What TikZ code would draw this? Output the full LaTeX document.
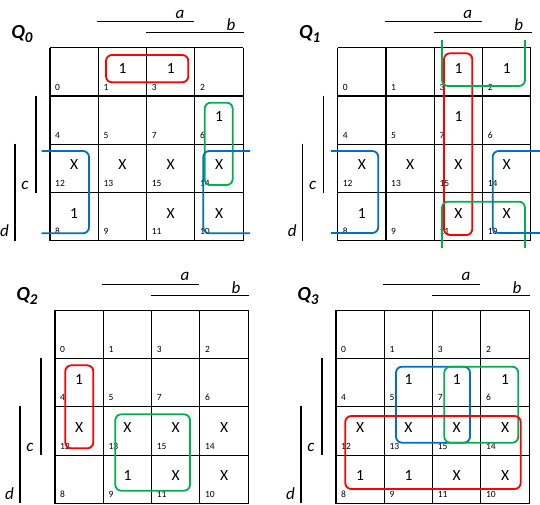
\documentclass[tikz,border=0pt]{standalone}
\usepackage{fontspec}
\setmainfont{Carlito}
\definecolor{kred}{RGB}{255,0,0}
\definecolor{kblue}{RGB}{0,112,192}
\definecolor{kgreen}{RGB}{0,176,80}
\tikzset{
  gridline/.style={line width=1.1pt, black},
  barline/.style={line width=1.1pt, black},
  cnum/.style={anchor=base west, inner sep=0pt, font=\fontsize{9.5}{9.5}\selectfont},
  entry/.style={inner sep=0pt, font=\fontsize{15.5}{15.5}\selectfont},
  varlab/.style={inner sep=0pt, font=\fontsize{17}{17}\selectfont\itshape},
  qlab/.style={inner sep=0pt, font=\fontsize{20}{20}\selectfont\bfseries\itshape},
  loop/.style={line width=1.8pt, rounded corners=6pt},
}
\newcommand\kcs{48.3}
\newcommand\kmap[5]{%
\begin{scope}[shift={(#2,#3)}]
  \foreach \i in {0,...,4}{
    \draw[gridline] ({\i*\kcs},0) -- ({\i*\kcs},{4*\kcs});
    \draw[gridline] (0,{\i*\kcs}) -- ({4*\kcs},{\i*\kcs});
  }
  \foreach \n [count=\k from 0] in {0,1,3,2,4,5,7,6,12,13,15,14,8,9,11,10}{
    \pgfmathtruncatemacro\kr{int(\k/4)}
    \pgfmathtruncatemacro\kc{mod(\k,4)}
    \node[cnum] (#1n\n) at ({\kc*\kcs+5},{\kr*\kcs+\kcs-6}) {\n};
  }
  \foreach \kc/\kr/\v in {#5}{
    \node[entry] (#1e\kc\kr) at ({\kc*\kcs+24.15},{\kr*\kcs+20.5}) {\v};
  }
  \node[qlab] (#1q) at (-28,-14) {Q\raisebox{-4pt}{\fontsize{15}{15}\selectfont #4}};
  \draw[barline] (47,-26) -- (144,-26);
  \node[varlab] (#1a) at (130,-33.7) {a};
  \draw[barline] (96,-15) -- (194,-15);
  \node[varlab] (#1b) at (181,-23) {b};
  \draw[barline] (-14,48) -- (-14,145);
  \node[varlab] (#1c) at (-25,137.3) {c};
  \draw[barline] (-35,96) -- (-35,193);
  \node[varlab] (#1d) at (-45.5,183) {d};
\end{scope}}
\begin{document}
\begin{tikzpicture}[x=1pt,y=-1pt]
\useasboundingbox (0,0) rectangle (540,504);
% Q0
\kmap{qa}{50}{47.7}{0}{1/0/1,2/0/1,3/1/1,0/2/X,1/2/X,2/2/X,3/2/X,0/3/1,2/3/X,3/3/X}
\draw[loop,kred] (106,55) rectangle (188.3,82.3);
\draw[loop,kgreen] (204.7,102.7) rectangle (232.7,185);
\draw[loop,kblue] (41.7,151) -- (89,151) -- (89,233.3) -- (41.7,233.3);
\draw[loop,kblue] (250,151) -- (203.3,151) -- (203.3,233.3) -- (250,233.3);
% Q1
\kmap{qb}{337.7}{47.7}{1}{2/0/1,3/0/1,2/1/1,0/2/X,1/2/X,2/2/X,3/2/X,0/3/1,2/3/X,3/3/X}
\draw[loop,kred] (444,53.3) rectangle (472.3,235);
\draw[loop,kgreen] (442,40) -- (442,86) -- (525,86) -- (525,40);
\draw[loop,kgreen] (442,248) -- (442,201.7) -- (525,201.7) -- (525,248);
\draw[loop,kblue] (331,151) -- (378.3,151) -- (378.3,233) -- (331,233);
\draw[loop,kblue] (541,151) -- (492.7,151) -- (492.7,233) -- (541,233);
% Q2
\kmap{qc}{55}{310.3}{2}{0/1/1,0/2/X,1/2/X,2/2/X,3/2/X,1/3/1,2/3/X,3/3/X}
\draw[loop,kred] (65.3,365.3) rectangle (93.3,448.3);
\draw[loop,kgreen] (115.3,414.3) rectangle (190,490.7);
% Q3
\kmap{qd}{336}{310.3}{3}{1/1/1,2/1/1,3/1/1,0/2/X,1/2/X,2/2/X,3/2/X,0/3/1,1/3/1,2/3/X,3/3/X}
\draw[loop,kblue] (396,366.7) rectangle (470,442.7);
\draw[loop,kgreen] (444.3,366.7) rectangle (518.3,442.7);
\draw[loop,kred] (345.3,416) rectangle (520.7,489);
\end{tikzpicture}
\end{document}
